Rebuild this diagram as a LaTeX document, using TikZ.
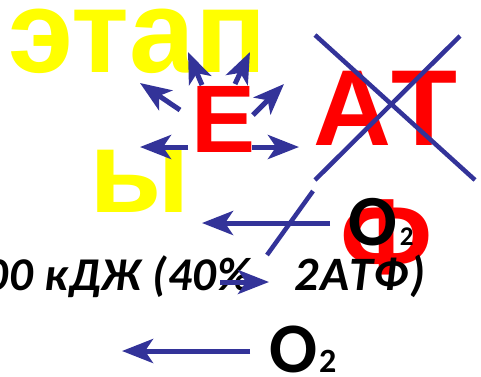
\documentclass[tikz,border=0pt]{standalone}
\usepackage{fontspec}
\setmainfont{Liberation Sans}
\newfontfamily\calib{Carlito}
\usetikzlibrary{arrows.meta}
\definecolor{arrblue}{RGB}{51,51,153}
\definecolor{yel}{RGB}{255,255,0}
\definecolor{redc}{RGB}{255,0,0}
\begin{document}
\begin{tikzpicture}[x=1pt,y=-1pt,
  big/.style={inner sep=0pt, font=\bfseries\fontsize{#1}{#1}\selectfont},
  calbig/.style={inner sep=0pt, font=\calib\bfseries\fontsize{#1}{#1}\selectfont},
  calit/.style={inner sep=0pt, font=\calib\bfseries\itshape\fontsize{#1}{#1}\selectfont},
  arr/.style={draw=arrblue, line width=5pt, -{Stealth[length=31pt,width=24pt,inset=8pt]}},
  crossline/.style={draw=arrblue, line width=4.5pt}]
\useasboundingbox (0,0) rectangle (481,376);
% yellow title
\node[big=118, text=yel, anchor=base] (t1) at (137.5,72) {этап};
\node[big=118, text=yel, anchor=base] (t2) at (139.5,212) {ы};
% red letters
\node[big=96, text=redc, anchor=base] (E) at (223.5,152) {Е};
\node[big=108, text=redc, anchor=base] (AT) at (385.5,145) {\addfontfeature{Kerning=Off}АТ};
\node[big=108, text=redc, anchor=base] (F) at (387,274) {Ф};
% black texts
\node[calit=47, anchor=base east] (kdj) at (252,290) {\addfontfeature{LetterSpace=2}00 кДЖ (40\%};
\node[calit=48, anchor=base west] (atf) at (294,290) {\addfontfeature{LetterSpace=5}2АТФ)};
\node[calbig=72, anchor=base west] (o2a) at (348,245) {O\kern3pt\fontsize{27}{27}\selectfont 2};
\node[calbig=71, anchor=base west] (o2b) at (269,372) {O\kern2pt\fontsize{34}{34}\selectfont 2};
% arrow coordinates
\coordinate (ulT) at (202,85);  \coordinate (ulH) at (188,52);
\coordinate (urT) at (235,84);  \coordinate (urH) at (250,52);
\coordinate (lT) at (180,110);  \coordinate (lH) at (140,83);
\coordinate (rT) at (253,115);  \coordinate (rH) at (284,84);
\coordinate (wT) at (188,147);  \coordinate (wH) at (140,147);
\coordinate (eT) at (252,147);  \coordinate (eH) at (299,147);
\coordinate (mT) at (330,223);  \coordinate (mH) at (202,223);
\coordinate (pT) at (220,282);  \coordinate (pH) at (269,282);
\coordinate (bT) at (250,351);  \coordinate (bH) at (122,351);
\coordinate (c1a) at (315,35);  \coordinate (c1b) at (475,180);
\coordinate (c2a) at (460,36);  \coordinate (c2b) at (315,180);
\coordinate (c3a) at (313,191); \coordinate (c3b) at (267,255);
% arrows
\draw[arr] (ulT) -- (ulH);
\draw[arr] (urT) -- (urH);
\draw[arr] (lT) -- (lH);
\draw[arr] (rT) -- (rH);
\draw[arr] (wT) -- (wH);
\draw[arr] (eT) -- (eH);
\draw[arr] (mT) -- (mH);
\draw[arr] (pT) -- (pH);
\draw[arr] (bT) -- (bH);
% crossing lines
\draw[crossline] (c1a) -- (c1b);
\draw[crossline] (c2a) -- (c2b);
\draw[crossline] (c3a) -- (c3b);
\end{tikzpicture}
\end{document}
